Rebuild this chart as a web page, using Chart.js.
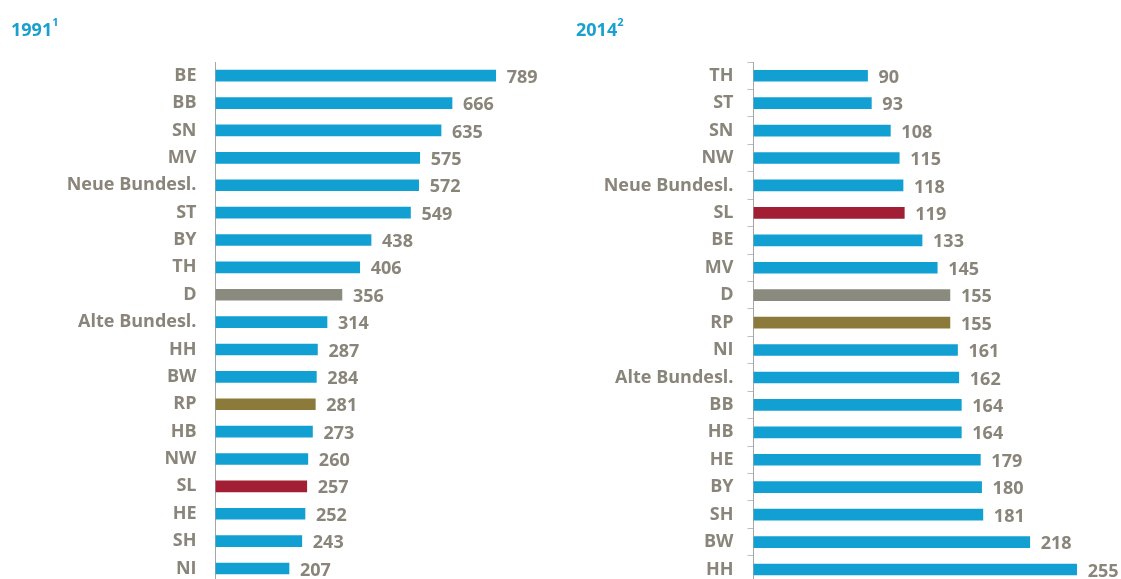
<!DOCTYPE html>
<html>
<head>
<meta charset="utf-8">
<script src="https://cdn.jsdelivr.net/npm/chart.js@4/dist/chart.umd.min.js"></script>
<style>
  html, body { margin: 0; padding: 0; background: #fff; overflow: hidden; }
  .panel { position: absolute; top: 0; }
  .panel h2 {
    position: absolute; margin: 0; top: 17px; line-height: 18px;
    font: 700 18px 'Open Sans', sans-serif; color: #1a9fd1;
  }
  .panel h2 sup { font-size: 11px; position: relative; top: -1px; vertical-align: top; line-height: 11px; }
  canvas { display: block; }
</style>
</head>
<body>
<div class="panel" style="left:0">
  <h2 style="left:11px">1991<sup>1</sup></h2>
  <canvas id="chart1991" width="560" height="612"></canvas>
</div>
<div class="panel" style="left:560px">
  <h2 style="left:16px">2014<sup>2</sup></h2>
  <canvas id="chart2014" width="561" height="608"></canvas>
</div>
<script>
const labels_1991 = ['BE', 'BB', 'SN', 'MV', 'Neue Bundesl.', 'ST', 'BY', 'TH', 'D', 'Alte Bundesl.',
	'HH', 'BW', 'RP', 'HB', 'NW', 'SL', 'HE', 'SH', 'NI'];
const values_1991 = [789, 666, 635, 575, 572, 549, 438, 406, 356, 314, 287, 284, 281, 273, 260, 257, 252, 243, 207];

const labels_2014 = ['TH', 'ST', 'SN', 'NW', 'Neue Bundesl.', 'SL', 'BE', 'MV', 'D', 'RP',
	'NI', 'Alte Bundesl.', 'BB', 'HB', 'HE', 'BY', 'SH', 'BW', 'HH'];
const values_2014 = [90, 93, 108, 115, 118, 119, 133, 145, 155, 155, 161, 162, 164, 164, 179, 180, 181, 218, 255];

const BLUE = '#12a0d3';
const highlight = { D: '#8b8a7e', RP: '#8b7a3a', SL: '#a11e35' };
const TEXT_GRAY = '#8a857a';
const FONT = "'Open Sans', sans-serif";

function barColors(labels) {
	return labels.map((l) => highlight[l] || BLUE);
}

// writes the value just past the end of every bar
const valueLabels = {
	id: 'valueLabels',
	afterDatasetsDraw(chart) {
		const ctx = chart.ctx;
		const meta = chart.getDatasetMeta(0);
		const data = chart.data.datasets[0].data;
		ctx.save();
		ctx.font = '700 18px ' + FONT;
		ctx.fillStyle = TEXT_GRAY;
		ctx.textAlign = 'left';
		ctx.textBaseline = 'middle';
		meta.data.forEach((bar, i) => {
			ctx.fillText(data[i], bar.x + 11, bar.y + 2);
		});
		ctx.restore();
	},
};

function makeChart(id, labels, values, xMax, axisX, withTicks) {
	return new Chart(document.getElementById(id), {
		type: 'bar',
		data: {
			labels: labels,
			datasets: [{
				data: values,
				backgroundColor: barColors(labels),
				barThickness: 11,
			}],
		},
		options: {
			indexAxis: 'y',
			responsive: false,
			animation: false,
			layout: { padding: { top: 62, right: 0, bottom: 0, left: 0 } },
			plugins: { legend: { display: false }, tooltip: { enabled: false } },
			scales: {
				x: { display: false, min: 0, max: xMax },
				y: {
					afterFit: (scale) => { scale.width = axisX; },
					border: { display: true, color: '#a6a6a6', width: 1 },
					grid: {
						display: withTicks,
						drawOnChartArea: false,
						drawTicks: withTicks,
						tickLength: 6,
						offset: true,
						color: '#bdbdbd',
					},
					ticks: {
						padding: withTicks ? 14 : 19,
						color: TEXT_GRAY,
						font: { family: FONT, size: 18, weight: '700' },
					},
				},
			},
		},
		plugins: [valueLabels],
	});
}

makeChart('chart1991', labels_1991, values_1991, 970, 215.5, false);
makeChart('chart2014', labels_2014, values_2014, 290, 193.5, true);
</script>
</body>
</html>
